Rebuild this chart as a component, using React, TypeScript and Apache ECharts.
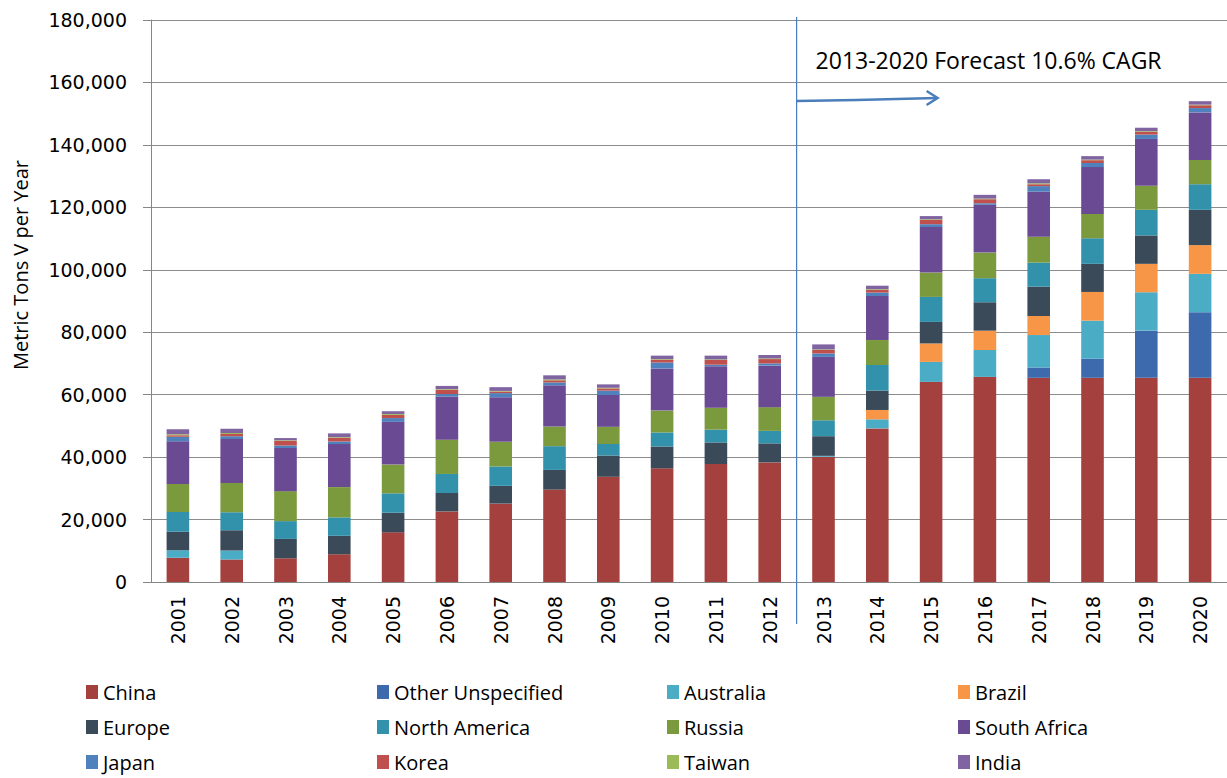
import React, { useEffect, useRef } from "react";
import * as echarts from "echarts";

const years = ["2001","2002","2003","2004","2005","2006","2007","2008","2009","2010","2011","2012","2013","2014","2015","2016","2017","2018","2019","2020"];

const china = [7800, 7200, 7600, 8900, 15900, 22600, 25100, 29600, 33700, 36400, 37800, 38300, 40100, 49200, 64100, 65700, 65400, 65400, 65400, 65400];
const otherUnspecified = [0, 0, 0, 0, 0, 0, 0, 0, 0, 0, 0, 0, 0, 0, 0, 0, 3300, 6100, 15100, 21000];
const australia = [2400, 2900, 0, 0, 0, 0, 0, 0, 0, 0, 0, 0, 300, 2900, 6400, 8600, 10400, 12200, 12300, 12300];
const brazil = [0, 0, 0, 0, 0, 0, 0, 0, 0, 0, 0, 0, 0, 3000, 5900, 6200, 6100, 9200, 9100, 9200];
const europe = [5900, 6500, 6200, 5900, 6300, 5900, 5700, 6300, 6800, 7000, 6900, 6100, 6300, 6200, 6900, 9100, 9400, 9000, 9100, 11300];
const northAmerica = [6300, 5700, 5700, 5900, 6200, 6100, 6200, 7600, 3700, 4500, 4100, 4000, 5100, 8200, 8000, 7700, 7700, 8200, 8200, 8200];
const russia = [9000, 9400, 9600, 9700, 9200, 11000, 7900, 6300, 5500, 7000, 7000, 7600, 7500, 8000, 7800, 8200, 8300, 7800, 7700, 7800];
const southAfrica = [13700, 14100, 13800, 13800, 13700, 13800, 14300, 13200, 10200, 13500, 13300, 13300, 12800, 14100, 14600, 15300, 14400, 15000, 15000, 15200];
const japan = [1400, 900, 800, 800, 1200, 800, 1300, 900, 1400, 1900, 500, 700, 1100, 1100, 900, 500, 1800, 1300, 1400, 1400];
const korea = [500, 700, 1500, 1200, 1000, 1400, 500, 700, 700, 900, 1500, 1400, 1100, 900, 1400, 1300, 600, 900, 900, 900];
const taiwan = [300, 300, 200, 200, 300, 200, 200, 300, 200, 200, 200, 200, 200, 200, 200, 200, 300, 200, 200, 200];
const india = [1600, 1400, 700, 1200, 900, 1000, 1200, 1300, 1100, 1100, 1200, 1100, 1600, 1100, 1000, 1200, 1300, 1100, 1100, 1100];

const seriesNames = ["China","Other Unspecified","Australia","Brazil","Europe","North America","Russia","South Africa","Japan","Korea","Taiwan","India"];
const seriesData = [china, otherUnspecified, australia, brazil, europe, northAmerica, russia, southAfrica, japan, korea, taiwan, india];
const seriesColors = ["#A4403D","#3D6AAD","#4BACC6","#F79646","#3B4A58","#3291AB","#7B9A3E","#6A4A93","#4F81BD","#C0504D","#9BBB59","#8064A2"];

const legendColumns = [
  ["China","Europe","Japan"],
  ["Other Unspecified","North America","Korea"],
  ["Australia","Russia","Taiwan"],
  ["Brazil","South Africa","India"],
];
const legendColX = [86, 377, 667, 958];

const yTitle = "Metric Tons V per Year";
const annotation = "2013-2020 Forecast 10.6% CAGR";

export default function App() {
  const ref = useRef<HTMLDivElement>(null);
  useEffect(() => {
    document.body.style.margin = "0";
    const chart = echarts.init(ref.current!, null, { renderer: "svg" });
    const axisColor = "#868686";
    const tickFont = "DejaVu Sans";
    const option: any = {
      animation: false,
      backgroundColor: "#ffffff",
      grid: { left: 151, top: 20, width: 1077, height: 562 },
      xAxis: {
        type: "category",
        data: years,
        axisLine: { lineStyle: { color: axisColor } },
        axisTick: { length: 9, lineStyle: { color: axisColor } },
        axisLabel: { rotate: 90, margin: 14, fontFamily: tickFont, fontSize: 19, color: "#000" },
      },
      yAxis: {
        type: "value",
        min: 0,
        max: 180000,
        interval: 20000,
        axisLine: { show: true, lineStyle: { color: axisColor } },
        axisTick: { show: true, length: 8, lineStyle: { color: axisColor } },
        splitLine: { lineStyle: { color: "#8c8c8c" } },
        axisLabel: {
          margin: 24,
          fontFamily: tickFont,
          fontSize: 19,
          color: "#000",
          formatter: (v: number) => v.toLocaleString("en-US"),
        },
      },
      legend: legendColumns.map((names, i) => ({
        orient: "vertical",
        left: legendColX[i],
        top: 682,
        padding: 0,
        itemWidth: 12,
        itemHeight: 14,
        itemGap: 15,
        icon: "rect",
        selectedMode: false,
        textStyle: { fontFamily: "Open Sans", fontSize: 20, color: "#000", lineHeight: 20 },
        data: names,
      })),
      series: seriesNames.map((name, i) => ({
        name,
        type: "bar",
        stack: "total",
        barWidth: "42%",
        itemStyle: { color: seriesColors[i] },
        data: seriesData[i],
      })),
    };
    chart.setOption(option);

    const x12 = chart.convertToPixel({ xAxisIndex: 0 }, "2012") as number;
    const x13 = chart.convertToPixel({ xAxisIndex: 0 }, "2013") as number;
    const lx = (x12 + x13) / 2;
    const arrowColor = "#4A7EBB";
    chart.setOption({
      graphic: [
        {
          type: "line",
          shape: { x1: lx, y1: 17, x2: lx, y2: 624 },
          style: { stroke: arrowColor, lineWidth: 1.2 },
          z: 10,
        },
        {
          type: "polyline",
          shape: { points: [[lx, 101], [lx + 60, 100], [lx + 140, 98]] },
          style: { stroke: arrowColor, lineWidth: 2.5, fill: null },
          z: 10,
        },
        {
          type: "polyline",
          shape: { points: [[lx + 130, 91], [lx + 141, 98], [lx + 130, 105]] },
          style: { stroke: arrowColor, lineWidth: 2.5, fill: null },
          z: 10,
        },
        {
          type: "text",
          x: lx + 19,
          y: 60,
          style: {
            text: annotation,
            fontFamily: "Open Sans",
            fontSize: 23,
            fill: "#000",
            textAlign: "left",
            textVerticalAlign: "middle",
          },
          z: 10,
        },
        {
          type: "text",
          x: 20,
          y: 265,
          rotation: Math.PI / 2,
          style: {
            text: yTitle,
            fontFamily: "Open Sans",
            fontSize: 20,
            fill: "#000",
            textAlign: "center",
            textVerticalAlign: "middle",
          },
        },
      ],
    });
    return () => chart.dispose();
  }, []);
  return <div ref={ref} style={{ position: "absolute", left: 0, top: 0, width: 1227, height: 778 }} />;
}
